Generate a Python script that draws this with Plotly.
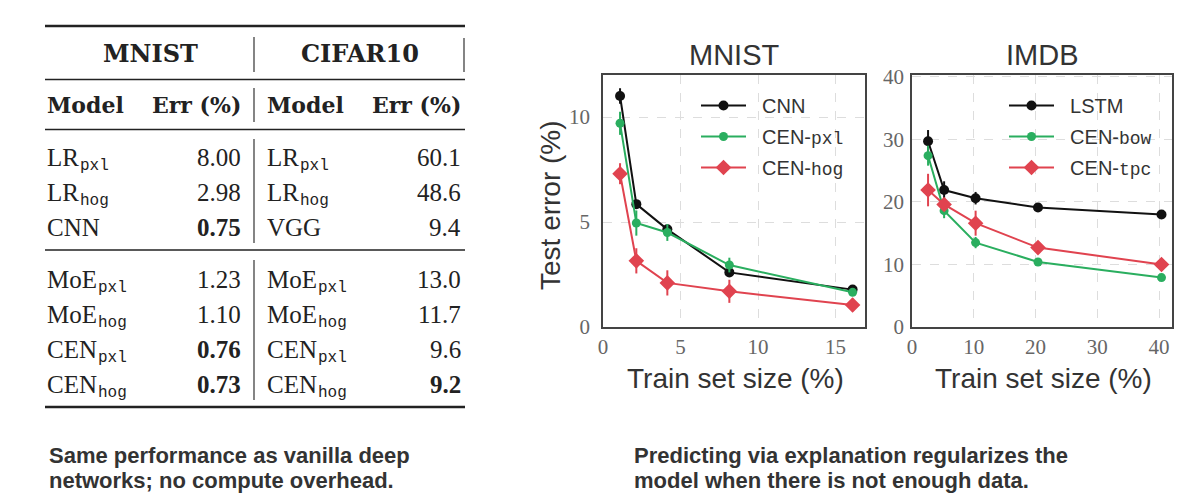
import plotly.graph_objects as go

# page body has an 8px margin; the figure fills the rest of the 1193x504 window
OFF = 8
W, H = 1193 - 2 * OFF, 504 - 2 * OFF

# ---------------- table data ----------------
table_datasets = ["MNIST", "CIFAR10"]
table_columns = ["Model", "Err (%)"]
mnist_model_names = ["LR", "LR", "CNN", "MoE", "MoE", "CEN", "CEN"]
mnist_model_subs = ["pxl", "hog", "", "pxl", "hog", "pxl", "hog"]
mnist_err = ["8.00", "2.98", "0.75", "1.23", "1.10", "0.76", "0.73"]
mnist_bold = [False, False, True, False, False, True, True]
cifar_model_names = ["LR", "LR", "VGG", "MoE", "MoE", "CEN", "CEN"]
cifar_model_subs = ["pxl", "hog", "", "pxl", "hog", "pxl", "hog"]
cifar_err = ["60.1", "48.6", "9.4", "13.0", "11.7", "9.6", "9.2"]
cifar_bold = [False, False, False, False, False, False, True]

# ---------------- MNIST curves ----------------
mnist_x = [1.1, 2.15, 4.15, 8.15, 16.1]
mnist_cnn = [11.0, 5.85, 4.65, 2.6, 1.78]
mnist_cnn_err = [0.37, 0.15, 0.2, 0.2, 0.15]
mnist_cen_pxl = [9.7, 4.95, 4.5, 2.95, 1.65]
mnist_cen_pxl_err = [0.55, 0.6, 0.4, 0.35, 0.15]
mnist_cen_hog = [7.3, 3.15, 2.1, 1.7, 1.05]
mnist_cen_hog_err = [0.5, 0.6, 0.6, 0.55, 0.3]

# ---------------- IMDB curves ----------------
imdb_x = [2.6, 5.2, 10.3, 20.4, 40.4]
imdb_lstm = [29.7, 21.9, 20.6, 19.1, 18.0]
imdb_lstm_err = [1.8, 1.4, 1.0, 0.4, 0.3]
imdb_cen_bow = [27.4, 18.6, 13.5, 10.4, 7.9]
imdb_cen_bow_err = [1.6, 1.2, 0.9, 0.4, 0.3]
imdb_cen_tpc = [21.9, 19.6, 16.6, 12.7, 10.0]
imdb_cen_tpc_err = [2.6, 0.8, 2.0, 0.5, 0.4]

mnist_xticks = [0, 5, 10, 15]
mnist_yticks = [0, 5, 10]
imdb_xticks = [0, 10, 20, 30, 40]
imdb_yticks = [0, 10, 20, 30, 40]

captions_left = ["Same performance as vanilla deep", "networks; no compute overhead."]
captions_right = ["Predicting via explanation regularizes the", "model when there is not enough data."]

BLACK = "#111111"
GREEN = "#2aae5f"
RED = "#e0434f"
SANS = "Liberation Sans"
SERIF = "Liberation Serif"
SERIF_B = "DejaVu Serif"
MONO = "Liberation Mono"
NB = "\u00a0\u00a0"

# advance widths (em) of Liberation Serif capitals/letters used in model names
SERIF_EM = {"L": 0.611, "R": 0.667, "M": 0.889, "o": 0.5, "E": 0.611, "C": 0.667, "N": 0.722,
            "V": 0.722, "G": 0.722}


def px(x):
    return (x - OFF) / W


def py(y):
    return 1 - (y - OFF) / H


def tt(s):
    return f"<span style='font-family:{MONO};font-size:18px'>{s}</span>"


fig = go.Figure()


def add_series(x, y, err, color, symbol, size, name, xa, ya, legend, group):
    fig.add_trace(go.Scatter(
        x=x, y=y, mode="lines+markers", name=NB + name,
        xaxis=xa, yaxis=ya, legend=legend, legendgroup=group,
        line=dict(color=color, width=2),
        marker=dict(color=color, symbol=symbol, size=size),
        error_y=dict(type="data", array=err, color=color, thickness=2, width=0),
    ))


add_series(mnist_x, mnist_cnn, mnist_cnn_err, BLACK, "circle", 10, "CNN", "x", "y", "legend", "a")
add_series(mnist_x, mnist_cen_pxl, mnist_cen_pxl_err, GREEN, "circle", 9, "CEN-" + tt("pxl"), "x", "y", "legend", "b")
add_series(mnist_x, mnist_cen_hog, mnist_cen_hog_err, RED, "diamond", 12, "CEN-" + tt("hog"), "x", "y", "legend", "c")
add_series(imdb_x, imdb_lstm, imdb_lstm_err, BLACK, "circle", 10, "LSTM", "x2", "y2", "legend2", "d")
add_series(imdb_x, imdb_cen_bow, imdb_cen_bow_err, GREEN, "circle", 9, "CEN-" + tt("bow"), "x2", "y2", "legend2", "e")
add_series(imdb_x, imdb_cen_tpc, imdb_cen_tpc_err, RED, "diamond", 12, "CEN-" + tt("tpc"), "x2", "y2", "legend2", "f")

axis_common = dict(
    showgrid=True, gridcolor="#dddddd", griddash="dash", gridwidth=1,
    showline=True, mirror=True, linecolor="#444444", linewidth=1.5,
    ticks="", zeroline=False, automargin=False,
    tickfont=dict(family=SERIF, size=21, color="#666666"),
)

legend_common = dict(
    xanchor="left", yanchor="top", bgcolor="rgba(0,0,0,0)",
    font=dict(family=SANS, size=20, color="#333333"),
    itemwidth=45, tracegroupgap=2,
)

fig.update_layout(
    width=W, height=H, margin=dict(l=0, r=0, t=0, b=0, pad=0, autoexpand=False),
    paper_bgcolor="white", plot_bgcolor="white",
    xaxis=dict(domain=[px(603), px(865)], range=[0, 16.9], tickvals=mnist_xticks, anchor="y", **axis_common),
    yaxis=dict(domain=[py(327), py(75)], range=[0, 12], tickvals=mnist_yticks, anchor="x",
               ticklabelstandoff=7, **axis_common),
    xaxis2=dict(domain=[px(912), px(1172)], range=[0, 42.1], tickvals=imdb_xticks, anchor="y2", **axis_common),
    yaxis2=dict(domain=[py(327), py(75)], range=[0, 40.3], tickvals=imdb_yticks, anchor="x2",
                ticklabelstandoff=2, **axis_common),
    legend=dict(x=px(696), y=py(86), **legend_common),
    legend2=dict(x=px(1004), y=py(86), **legend_common),
    showlegend=True,
)

ann = []
shapes = []


def note(text, x, y, font, xanchor="center", **kw):
    ann.append(dict(text=text, x=px(x), y=py(y), xref="paper", yref="paper",
                    xanchor=xanchor, yanchor="middle", showarrow=False, font=font, **kw))


TITLE_FONT = dict(family=SANS, size=29, color="#333333")
AXT_FONT = dict(family=SANS, size=28, color="#333333")

# plot titles and axis titles
note("MNIST", 734, 55, TITLE_FONT)
note("IMDB", 1042, 55, TITLE_FONT)
note("Train set size (%)", 735, 378, AXT_FONT)
note("Train set size (%)", 1043, 378, AXT_FONT)
note("Test error (%)", 550, 205, AXT_FONT, textangle=-90)

# table
TSIZE = 25
TFONT = dict(family=SERIF, size=TSIZE, color="#222222")
SFONT = dict(family=MONO, size=16, color="#222222")
HFONT = dict(family=SERIF_B, size=24, color="#222222")
CFONT = dict(family=SERIF_B, size=22, color="#222222")

note("<b>" + table_datasets[0] + "</b>", 150, 54, HFONT)
note("<b>" + table_datasets[1] + "</b>", 360, 54, HFONT)
for x0, x1 in [(45, 243), (265, 463)]:
    note("<b>" + table_columns[0] + "</b>", x0, 105, CFONT, xanchor="left")
    note("<b>" + table_columns[1] + "</b>", x1, 105, CFONT, xanchor="right")

row_y = [157, 192, 227, 279, 314, 349, 384]
for names, subs, errs, bolds, x0, x1 in [
    (mnist_model_names, mnist_model_subs, mnist_err, mnist_bold, 45, 243),
    (cifar_model_names, cifar_model_subs, cifar_err, cifar_bold, 265, 463),
]:
    for n, s, e, b, y in zip(names, subs, errs, bolds, row_y):
        note(n, x0, y, TFONT, xanchor="left")
        if s:
            wname = sum(SERIF_EM[c] for c in n) * TSIZE
            note(s, x0 + wname + 1, y + 9, SFONT, xanchor="left")
        note(f"<b>{e}</b>" if b else e, x1, y, TFONT, xanchor="right")


def hline(y, w):
    shapes.append(dict(type="line", xref="paper", yref="paper", x0=px(45), x1=px(465),
                       y0=py(y), y1=py(y), line=dict(color="#222222", width=w)))


def vline(x, y0, y1):
    shapes.append(dict(type="line", xref="paper", yref="paper", x0=px(x), x1=px(x),
                       y0=py(y0), y1=py(y1), line=dict(color="#333333", width=1.2)))


hline(26, 2.5)
hline(79.5, 1.5)
hline(129.5, 1.5)
hline(250, 1.5)
hline(407, 2.5)
vline(254, 37, 72)
vline(464, 38, 72)
vline(254, 88, 122)
vline(254, 139, 243)
vline(254, 260, 400)

# captions
CAP_FONT = dict(family=SANS, size=22, color="#333333")
for lines, x in [(captions_left, 47), (captions_right, 632)]:
    for line, y in zip(lines, [455, 480]):
        note("<b>" + line + "</b>", x, y, CAP_FONT, xanchor="left")

fig.update_layout(annotations=ann, shapes=shapes)
fig.write_html("out.html")
